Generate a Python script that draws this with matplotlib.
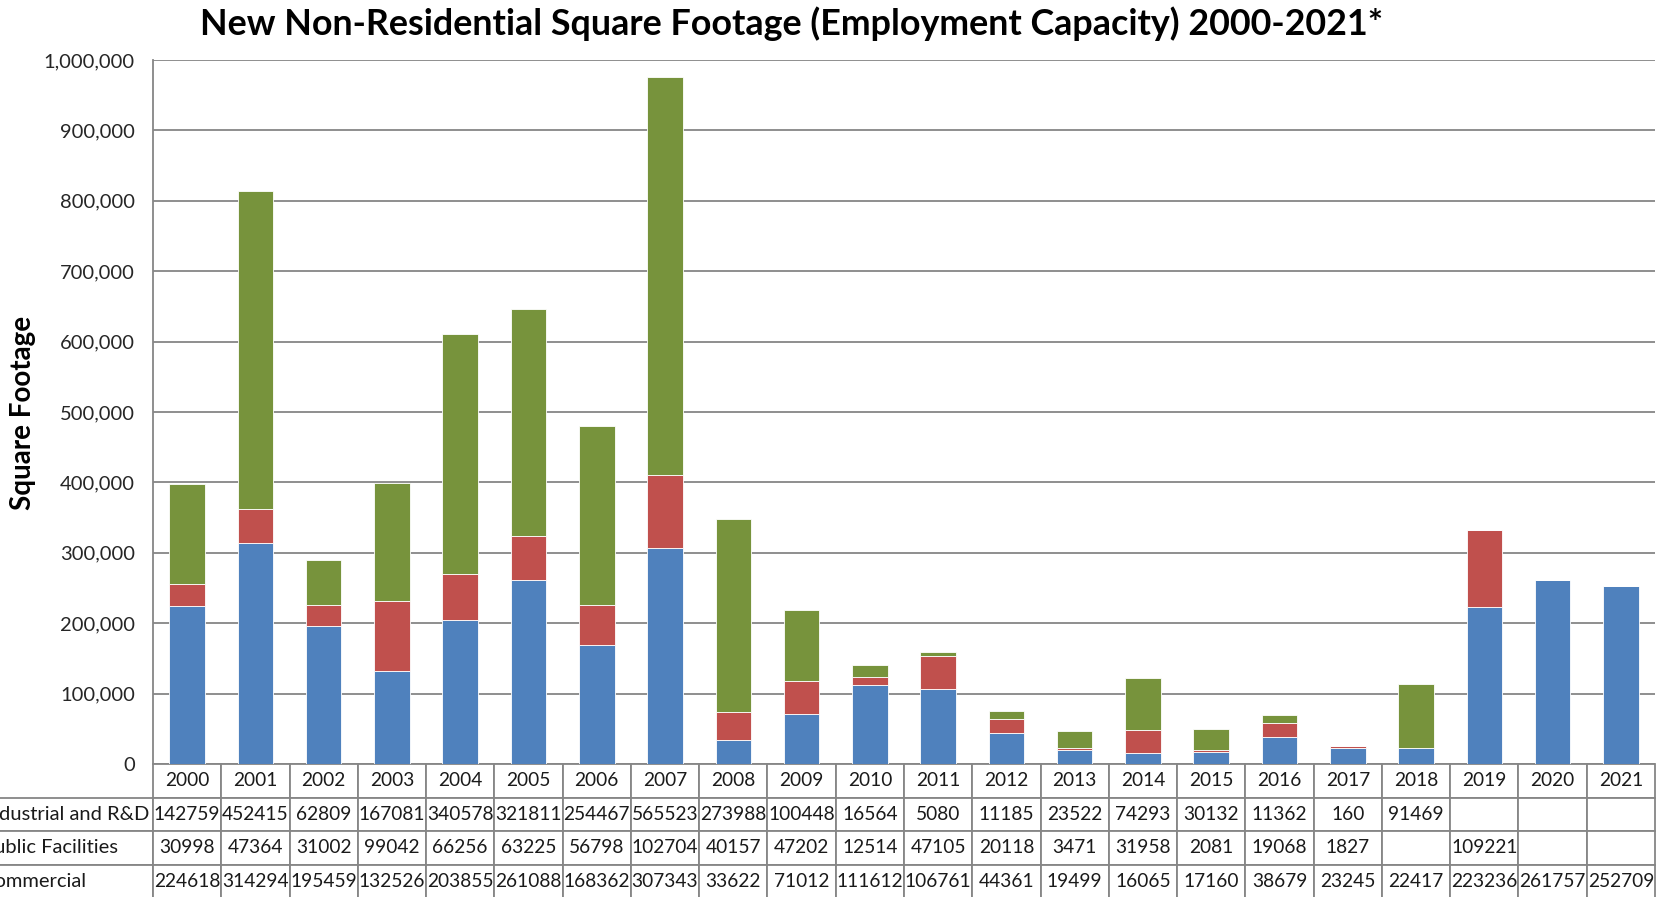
import numpy as np
import matplotlib.pyplot as plt
from matplotlib.ticker import FuncFormatter
from matplotlib.table import Table

years = [str(y) for y in range(2000, 2022)]
industrial = [142759, 452415, 62809, 167081, 340578, 321811, 254467, 565523, 273988, 100448, 16564,
              5080, 11185, 23522, 74293, 30132, 11362, 160, 91469, None, None, None]
public = [30998, 47364, 31002, 99042, 66256, 63225, 56798, 102704, 40157, 47202, 12514,
          47105, 20118, 3471, 31958, 2081, 19068, 1827, None, 109221, None, None]
commercial = [224618, 314294, 195459, 132526, 203855, 261088, 168362, 307343, 33622, 71012, 111612,
              106761, 44361, 19499, 16065, 17160, 38679, 23245, 22417, 223236, 261757, 252709]
row_labels = ['Industrial and R&D', 'Public Facilities', 'Commercial']

blue = '#4F81BD'
red = '#C0504D'
green = '#77933C'
grid_gray = '#868686'
font = 'Lato'

def num(v):
    return np.array([0 if x is None else x for x in v], dtype=float)

com = num(commercial)
pub = num(public)
ind = num(industrial)

fig = plt.figure(figsize=(16.59, 8.97), dpi=100)
ax = fig.add_axes([153 / 1659, 1 - 764 / 897, (1655 - 153) / 1659, (764 - 60) / 897])

x = np.arange(len(years))
w = 0.52
ax.bar(x, com, w, color=blue, edgecolor='white', linewidth=0.6)
ax.bar(x, pub, w, bottom=com, color=red, edgecolor='white', linewidth=0.6)
ax.bar(x, ind, w, bottom=com + pub, color=green, edgecolor='white', linewidth=0.6)

ax.set_xlim(-0.5, len(years) - 0.5)
ax.set_ylim(0, 1000000)
ax.set_yticks(np.arange(0, 1000001, 100000))
ax.yaxis.set_major_formatter(FuncFormatter(lambda v, p: f'{int(v):,}'))
ax.tick_params(axis='y', length=0, pad=13, labelsize=14.5, colors='#262626')
for lab in ax.get_yticklabels():
    lab.set_family(font)
ax.set_xticks([])
ax.grid(axis='y', color=grid_gray, linewidth=1.3)
ax.set_axisbelow(True)
for s in ['top', 'right', 'bottom']:
    ax.spines[s].set_visible(False)
ax.spines['left'].set_color(grid_gray)
ax.spines['left'].set_linewidth(1.3)

fig.text(23 / 1659, 1 - 413 / 897, 'Square Footage', rotation=90, ha='center', va='center',
         fontsize=20, fontweight='bold', family=font)
fig.text(792 / 1659, 1 - 24 / 897, 'New Non-Residential Square Footage (Employment Capacity) 2000-2021*',
         ha='center', va='center', fontsize=25.8, fontweight='bold', family=font)

def fmt(v):
    return '' if v is None else str(v)

rows = [industrial, public, commercial]
ncol = len(years)
col_w = 1 / ncol
lab_w = (153 + 22) / (1655 - 153)
row_h = 33.5 / 704

# bbox covers only the data columns; the label column sits to its left
tbl = Table(ax, bbox=[0, -4 * row_h, 1, 4 * row_h])
for j, y in enumerate(years):
    tbl.add_cell(0, j, col_w, row_h, text=y, loc='center')
for i, (name, vals) in enumerate(zip(row_labels, rows), start=1):
    tbl.add_cell(i, -1, lab_w, row_h, text=name, loc='left')
    for j, v in enumerate(vals):
        tbl.add_cell(i, j, col_w, row_h, text=fmt(v), loc='center')
tbl.auto_set_font_size(False)
for (r, c), cell in tbl.get_celld().items():
    cell.set_edgecolor(grid_gray)
    cell.set_linewidth(1.3)
    cell.get_text().set_fontsize(13.8)
    cell.get_text().set_family(font)
    cell.get_text().set_color('#1a1a1a')
    if c == -1:
        cell.PAD = 0.02
        cell.get_text().set_fontsize(14.5)
ax.add_table(tbl)

fig.savefig('out.png', dpi=100)
